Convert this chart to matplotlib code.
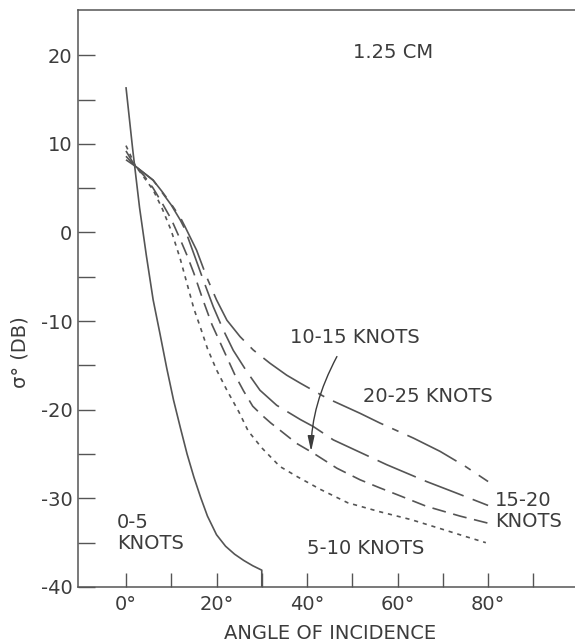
import matplotlib
matplotlib.use("Agg")
import matplotlib.pyplot as plt

plt.rcParams["font.family"] = ["DejaVu Sans"]
plt.rcParams["lines.scale_dashes"] = False

INK = "#3c3c3c"
LINE = "#555555"

# Backscatter sigma-zero (dB) vs. angle of incidence (deg), 1.25 cm wavelength
ang_0_5 = [0, 1.5, 3.0, 4.5, 6.0, 7.5, 9.0, 10.5, 12.0, 13.5, 15.0, 16.5, 18.0,
           20.0, 22.0, 24.0, 26.0, 28.0, 30.0, 30.0]
sig_0_5 = [16.4, 9.3, 2.8, -2.6, -7.6, -11.4, -15.3, -18.9, -22.0, -25.0, -27.6,
           -29.9, -32.0, -34.1, -35.4, -36.3, -37.0, -37.6, -38.1, -40.0]

ang_5_10 = [0, 2, 4, 6, 8, 10, 12, 13.5, 15, 16.5, 18, 20, 22.3, 25, 27, 30, 34,
            38, 43, 49, 56, 63, 70, 75, 79.5]
sig_5_10 = [9.8, 7.6, 6.2, 4.8, 2.7, 0.2, -3.0, -5.8, -8.6, -10.8, -13.1, -15.5,
            -17.8, -20.3, -22.4, -24.3, -26.4, -27.6, -29.0, -30.5, -31.5, -32.4,
            -33.5, -34.3, -35.0]

ang_10_15 = [0, 2, 4, 6, 8, 10, 12, 13.5, 15, 17, 19, 21.5, 24, 26, 28, 30, 32,
             34, 37.7, 41.4, 46.6, 51.7, 56, 60, 66.4, 73.8, 80]
sig_10_15 = [9.2, 7.5, 6.4, 5.0, 3.3, 1.5, -0.8, -2.6, -4.6, -7.6, -10.4, -13.2,
             -16.0, -17.9, -19.6, -20.6, -21.5, -22.3, -23.8, -24.9, -26.6, -27.9,
             -28.8, -29.6, -30.9, -32.0, -32.8]

ang_15_20 = [0, 2, 4, 6, 8, 10, 12, 13, 15.2, 17.1, 19.3, 21.5, 23.7, 26.7, 29.6,
             33.3, 38.5, 41.4, 45.8, 51.7, 57.6, 66.4, 73, 80]
sig_15_20 = [8.6, 7.5, 6.7, 5.9, 4.5, 3.1, 1.4, 0.4, -2.7, -5.4, -8.4, -11.0,
             -13.3, -15.7, -17.8, -19.5, -21.1, -21.9, -23.4, -24.8, -26.2, -28.1,
             -29.4, -30.8]

ang_20_25 = [0, 2, 4, 6, 8, 10, 12, 13, 15.6, 17.8, 20, 22.3, 25.2, 28.1, 31.8,
             35.5, 38.5, 44.4, 51.7, 56.1, 63.5, 69.4, 75, 80]
sig_20_25 = [8.2, 7.5, 6.7, 5.9, 4.6, 3.2, 1.7, 0.7, -2.0, -5.0, -7.6, -9.9,
             -11.75, -13.25, -14.75, -16.1, -17.0, -18.7, -20.4, -21.5, -23.2,
             -24.7, -26.4, -28.1]

x_ticks = list(range(0, 100, 10))
x_labels = ["0°", "", "20°", "", "40°", "", "60°", "", "80°", ""]
y_ticks = list(range(-40, 25, 5))
y_labels = ["-40", "", "-30", "", "-20", "", "-10", "", "0", "", "10", "", "20"]

fig = plt.figure(figsize=(5.75, 6.42), dpi=100)
ax = fig.add_axes([78 / 575, 55 / 642, 497 / 575, 577 / 642])
ax.set_xlim(-10.6, 99.2)
ax.set_ylim(-40, 25.1)

lw = 1.2
ax.plot(ang_0_5, sig_0_5, color=LINE, lw=lw, solid_capstyle="butt",
        solid_joinstyle="round")
ax.plot(ang_5_10, sig_5_10, color=LINE, lw=lw, linestyle=(0, (3, 3.5)))
ax.plot(ang_10_15, sig_10_15, color=LINE, lw=lw, linestyle=(0, (10, 5.5)))
ax.plot(ang_15_20, sig_15_20, color=LINE, lw=lw, linestyle=(0, (30, 7)))
ax.plot(ang_20_25, sig_20_25, color=LINE, lw=lw, linestyle=(0, (40, 7, 5, 7)))

fs = 14
ax.text(50.2, 20.35, "1.25 CM", fontsize=fs, color=INK, ha="left", va="center")
ax.text(36.2, -11.8, "10-15 KNOTS", fontsize=fs, color=INK, ha="left", va="center")
ax.text(52.4, -18.55, "20-25 KNOTS", fontsize=fs, color=INK, ha="left", va="center")
ax.text(81.5, -31.4, "15-20\nKNOTS", fontsize=fs, color=INK, ha="left", va="center",
        linespacing=1.15)
ax.text(40.0, -35.7, "5-10 KNOTS", fontsize=fs, color=INK, ha="left", va="center")
ax.text(-2.0, -33.9, "0-5\nKNOTS", fontsize=fs, color=INK, ha="left", va="center",
        linespacing=1.1)

ax.annotate("", xy=(40.9, -24.7), xytext=(46.6, -14.0),
            arrowprops=dict(arrowstyle="-|>,head_length=0.9,head_width=0.2",
                            connectionstyle="angle3,angleA=62,angleB=90",
                            color=INK, lw=1.0, shrinkA=0, shrinkB=0,
                            mutation_scale=10))

ax.set_xticks(x_ticks)
ax.set_xticklabels(x_labels)
ax.set_yticks(y_ticks)
ax.set_yticklabels(y_labels)
ax.tick_params(axis="both", direction="in", colors=LINE, labelcolor=INK,
               labelsize=fs, width=1.0)
ax.tick_params(axis="x", length=10, pad=6)
ax.tick_params(axis="y", length=12, pad=4)

for side in ("left", "bottom", "top"):
    ax.spines[side].set_color(LINE)
    ax.spines[side].set_linewidth(1.1)
ax.spines["right"].set_visible(False)

fig.text(330 / 575, 3 / 642, "ANGLE OF INCIDENCE", fontsize=fs, color=INK,
         ha="center", va="baseline")
fig.text(20 / 575, 1 - 352 / 642, "σ° (DB)", fontsize=fs, color=INK,
         rotation=90, ha="center", va="center")

fig.savefig("out.png", dpi=100, facecolor="white")
